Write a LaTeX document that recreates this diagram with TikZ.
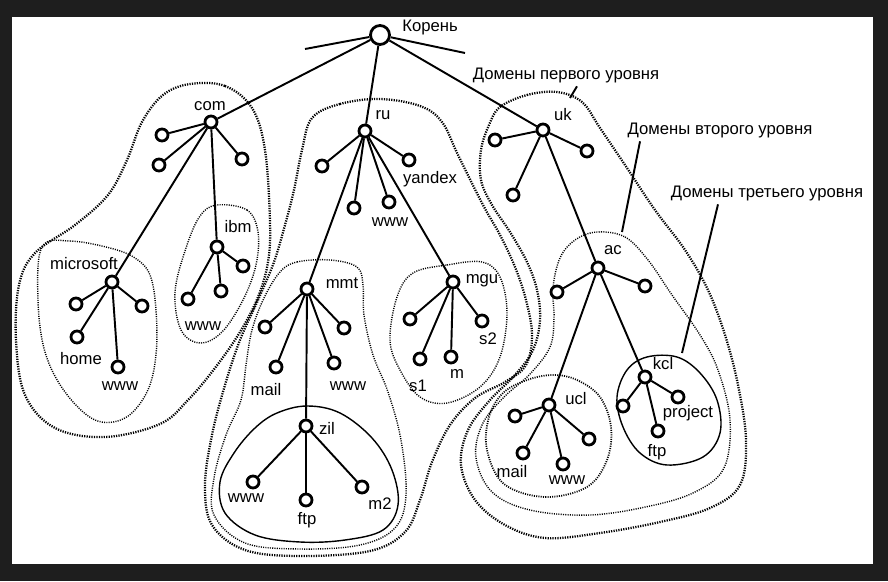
\documentclass[tikz,border=0pt]{standalone}
\usepackage{fontspec}
\setmainfont{Liberation Sans}
\usepackage{tikz}
\definecolor{framegray}{RGB}{30,30,30}
\usetikzlibrary{positioning}

\begin{document}
\begin{tikzpicture}[
    x=0.02cm, y=-0.02cm,
    host/.style={circle, draw, line width=1.6pt, fill=white,
                 minimum size=0.24cm, inner sep=0pt},
    roothost/.style={host, minimum size=0.38cm},
    link/.style={line width=1.1pt},
    lbl/.style={font=\fontsize{9.5}{11}\selectfont, inner sep=0pt},
    zoneone/.style={line width=1.3pt, dash pattern=on 0.7pt off 0.7pt},
    zonetwo/.style={line width=0.8pt, dash pattern=on 0.6pt off 0.7pt},
    zonethree/.style={line width=0.8pt}
  ]

  %% Frame
  \fill[framegray] (0,0) rectangle (888,581);
  \fill[white] (12,17) rectangle (873,564);

  %% First level zones
  \draw[zoneone] plot[smooth cycle, tension=0.6] coordinates {
    (190,84) (225,86) (252,108) (265,150) (270,222) (268,262) (258,297)
    (240,332) (215,368) (188,400) (160,424) (105,437) (55,428) (25,395)
    (16,340) (19,285) (35,253) (75,225) (108,195) (127,160) (142,122) (163,95)};
  \draw[zoneone] plot[smooth cycle, tension=0.6] coordinates {
    (312,118) (340,104) (380,99) (420,106) (442,122) (458,155) (483,205)
    (500,235) (515,267) (526,300) (532,335) (526,365) (505,382) (475,398)
    (450,425) (432,462) (420,500) (405,532) (370,551) (300,556) (245,550)
    (212,525) (205,485) (212,435) (225,385) (240,340) (258,300) (274,262)
    (285,225) (294,190) (302,150)};
  \draw[zoneone] plot[smooth cycle, tension=0.6] coordinates {
    (500,107) (527,95) (557,92) (582,102) (600,128) (625,165) (655,210)
    (685,250) (708,290) (725,335) (738,385) (746,440) (740,485) (710,508)
    (660,522) (600,533) (545,538) (505,525) (475,500) (461,465) (468,430)
    (490,400) (515,375) (533,350) (540,320) (537,290) (527,262) (510,232)
    (492,205) (481,180) (481,150) (489,125)};

  %% Second level zones
  \draw[zonetwo] plot[smooth cycle, tension=0.6] coordinates {
    (42,247) (70,241) (110,248) (135,258) (150,275) (156,310) (156,355)
    (147,392) (125,418) (95,420) (65,392) (45,352) (38,300)};
  \draw[zonetwo] plot[smooth cycle, tension=0.6] coordinates {
    (217,205) (247,210) (258,232) (256,265) (243,300) (222,332) (200,343)
    (181,330) (175,292) (186,248) (200,216)};
  \draw[zonetwo] plot[smooth cycle, tension=0.6] coordinates {
    (280,272) (297,262) (330,260) (357,267) (363,285) (364,315) (373,355)
    (388,392) (401,440) (406,495) (395,528) (360,545) (300,549) (245,543)
    (214,515) (214,478) (226,435) (241,400) (246,365) (252,330) (264,298)};
  \draw[zonetwo] plot[smooth cycle, tension=0.6] coordinates {
    (413,273) (447,265) (482,262) (500,277) (507,313) (500,357) (480,387)
    (447,403) (420,397) (400,370) (390,340) (397,297)};
  \draw[zonetwo] plot[smooth cycle, tension=0.6] coordinates {
    (597,232) (625,237) (648,260) (672,295) (700,335) (718,370) (730,420)
    (724,468) (695,492) (650,506) (590,515) (530,510) (492,492) (476,458)
    (482,425) (503,398) (530,374) (550,347) (554,318) (553,288) (560,258)
    (575,240)};

  %% Third level zones
  \draw[zonethree] plot[smooth cycle, tension=0.6] coordinates {
    (277,413) (307,406) (340,413) (372,438) (392,470) (398,505) (383,530)
    (345,540) (300,542) (255,535) (225,513) (220,482) (234,453) (255,428)};
  \draw[zonetwo, line width=1pt] plot[smooth cycle, tension=0.6] coordinates {
    (553,375) (577,380) (600,397) (611,427) (607,460) (587,487) (545,497)
    (504,484) (487,450) (489,417) (503,393) (527,380)};
  \draw[zonethree] plot[smooth cycle, tension=0.6] coordinates {
    (647,357) (677,357) (700,373) (717,400) (720,433) (703,457) (667,465)
    (640,453) (623,427) (617,397) (627,370)};

  %% Root
  \node[roothost] (root) at (380,35) {};
  \coordinate (stubl) at (305,49);
  \coordinate (stubr) at (465,53);

  %% com
  \node[host] (com) at (211,122) {};
  \node[host] (com-a) at (162,135) {};
  \node[host] (com-b) at (159,165) {};
  \node[host] (com-c) at (242,159) {};
  \node[host] (ibm) at (217,247) {};
  \node[host] (ibm-a) at (188,299) {};
  \node[host] (ibm-b) at (221,291) {};
  \node[host] (ibm-c) at (243,266) {};
  \node[host] (ms) at (112,282) {};
  \node[host] (ms-a) at (76,304) {};
  \node[host] (ms-b) at (77,337) {};
  \node[host] (ms-c) at (142,306) {};
  \node[host] (ms-d) at (118,367) {};

  %% ru
  \node[host] (ru) at (365,131) {};
  \node[host] (ru-a) at (322,166) {};
  \node[host] (ru-b) at (354,208) {};
  \node[host] (ru-c) at (389,202) {};
  \node[host] (ru-d) at (409,160) {};
  \node[host] (mmt) at (307,289) {};
  \node[host] (mmt-a) at (265,327) {};
  \node[host] (mmt-b) at (276,367) {};
  \node[host] (mmt-c) at (344,328) {};
  \node[host] (mmt-d) at (334,363) {};
  \node[host] (zil) at (306,426) {};
  \node[host] (zil-a) at (253,482) {};
  \node[host] (zil-b) at (306,500) {};
  \node[host] (zil-c) at (362,487) {};
  \node[host] (mgu) at (453,282) {};
  \node[host] (mgu-a) at (410,319) {};
  \node[host] (mgu-b) at (420,359) {};
  \node[host] (mgu-c) at (451,357) {};
  \node[host] (mgu-d) at (482,321) {};

  %% uk
  \node[host] (uk) at (543,130) {};
  \node[host] (uk-a) at (495,140) {};
  \node[host] (uk-b) at (587,151) {};
  \node[host] (uk-c) at (513,195) {};
  \node[host] (ac) at (598,268) {};
  \node[host] (ac-a) at (557,292) {};
  \node[host] (ac-b) at (645,286) {};
  \node[host] (ucl) at (549,405) {};
  \node[host] (ucl-a) at (515,416) {};
  \node[host] (ucl-b) at (523,453) {};
  \node[host] (ucl-c) at (563,464) {};
  \node[host] (ucl-d) at (589,439) {};
  \node[host] (kcl) at (645,377) {};
  \node[host] (kcl-a) at (623,406) {};
  \node[host] (kcl-b) at (678,397) {};
  \node[host] (kcl-c) at (658,431) {};

  %% Links
  \draw[link] (stubl) -- (root) -- (stubr);
  \draw[link] (root) -- (com);
  \draw[link] (root) -- (ru);
  \draw[link] (root) -- (uk);
  \foreach \kid in {com-a, com-b, com-c, ibm, ms}
    \draw[link] (com) -- (\kid);
  \foreach \kid in {ibm-a, ibm-b, ibm-c}
    \draw[link] (ibm) -- (\kid);
  \foreach \kid in {ms-a, ms-b, ms-c, ms-d}
    \draw[link] (ms) -- (\kid);
  \foreach \kid in {ru-a, ru-b, ru-c, ru-d, mmt, mgu}
    \draw[link] (ru) -- (\kid);
  \foreach \kid in {mmt-a, mmt-b, mmt-c, mmt-d, zil}
    \draw[link] (mmt) -- (\kid);
  \foreach \kid in {zil-a, zil-b, zil-c}
    \draw[link] (zil) -- (\kid);
  \foreach \kid in {mgu-a, mgu-b, mgu-c, mgu-d}
    \draw[link] (mgu) -- (\kid);
  \foreach \kid in {uk-a, uk-b, uk-c, ac}
    \draw[link] (uk) -- (\kid);
  \foreach \kid in {ac-a, ac-b, ucl, kcl}
    \draw[link] (ac) -- (\kid);
  \foreach \kid in {ucl-a, ucl-b, ucl-c, ucl-d}
    \draw[link] (ucl) -- (\kid);
  \foreach \kid in {kcl-a, kcl-b, kcl-c}
    \draw[link] (kcl) -- (\kid);

  %% Host labels
  \node[lbl, anchor=west] (t-root) at (402,27) {Корень};
  \node[lbl] (t-com) at (210,106) {com};
  \node[lbl] (t-ms) at (84,264) {microsoft};
  \node[lbl] (t-ms-b) at (81,359) {home};
  \node[lbl] (t-ms-d) at (120,386) {www};
  \node[lbl] (t-ibm) at (238,227) {ibm};
  \node[lbl] (t-ibm-a) at (203,326) {www};
  \node[lbl] (t-ru) at (383,115) {ru};
  \node[lbl] (t-ru-d) at (430,179) {yandex};
  \node[lbl] (t-ru-c) at (390,222) {www};
  \node[lbl] (t-mmt) at (342,283) {mmt};
  \node[lbl] (t-mmt-b) at (266,390) {mail};
  \node[lbl] (t-mmt-d) at (348,386) {www};
  \node[lbl] (t-zil) at (327,428) {zil};
  \node[lbl] (t-zil-a) at (246,498) {www};
  \node[lbl] (t-zil-b) at (307,520) {ftp};
  \node[lbl] (t-zil-c) at (380,504) {m2};
  \node[lbl] (t-mgu) at (482,281) {mgu};
  \node[lbl] (t-mgu-b) at (418,386) {s1};
  \node[lbl] (t-mgu-c) at (457,374) {m};
  \node[lbl] (t-mgu-d) at (488,339) {s2};
  \node[lbl] (t-uk) at (563,115) {uk};
  \node[lbl] (t-ac) at (613,250) {ac};
  \node[lbl] (t-ucl) at (576,399) {ucl};
  \node[lbl] (t-ucl-b) at (512,472) {mail};
  \node[lbl] (t-ucl-c) at (567,480) {www};
  \node[lbl] (t-kcl) at (663,364) {kcl};
  \node[lbl] (t-kcl-b) at (688,413) {project};
  \node[lbl] (t-kcl-c) at (657,452) {ftp};

  %% Level captions
  \node[lbl] (lvlone) at (566,75) {Домены первого уровня};
  \node[lbl] (lvltwo) at (720,130) {Домены второго уровня};
  \node[lbl] (lvlthree) at (767,193) {Домены третьего уровня};
  \coordinate (tipone) at (570,98);
  \coordinate (tiptwo) at (622,232);
  \coordinate (tipthree) at (682,353);
  \draw[link] ([xshift=0.22cm, yshift=-2pt]lvlone.south) -- (tipone);
  \draw[link] ([xshift=-1.6cm, yshift=-2pt]lvltwo.south) -- (tiptwo);
  \draw[link] ([xshift=-0.98cm, yshift=-2pt]lvlthree.south) -- (tipthree);

\end{tikzpicture}
\end{document}
